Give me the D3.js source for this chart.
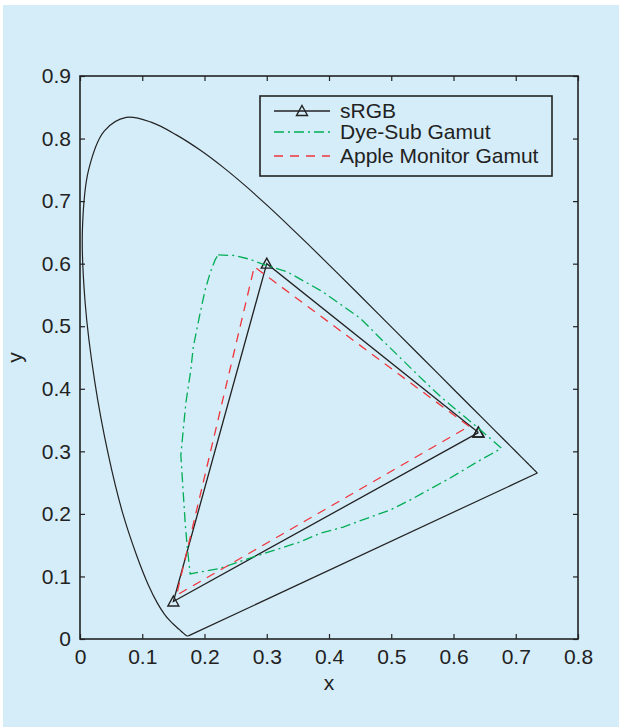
<!DOCTYPE html>
<html><head><meta charset="utf-8">
<script src="https://cdn.jsdelivr.net/npm/d3@7"></script>
<style>body{margin:0;background:#fff}svg{display:block}</style>
</head><body>
<svg id="c" width="619" height="727"></svg>
<script>
// CIE 1931 spectral locus, 380–700 nm (5 nm)
const locusX = [0.1741,0.1740,0.1738,0.1736,0.1733,0.1730,0.1726,0.1721,0.1714,0.1703,0.1689,0.1669,0.1644,0.1611,0.1566,0.1510,0.1440,0.1355,0.1241,0.1096,0.0913,0.0687,0.0454,0.0235,0.0082,0.0039,0.0139,0.0389,0.0743,0.1142,0.1547,0.1929,0.2296,0.2658,0.3016,0.3373,0.3731,0.4087,0.4441,0.4788,0.5125,0.5448,0.5752,0.6029,0.6270,0.6482,0.6658,0.6801,0.6915,0.7006,0.7079,0.7140,0.7190,0.7230,0.7260,0.7283,0.7300,0.7311,0.7320,0.7327,0.7334,0.7340,0.7344,0.7346,0.7347];
const locusY = [0.0050,0.0050,0.0049,0.0049,0.0048,0.0048,0.0048,0.0048,0.0051,0.0058,0.0069,0.0086,0.0109,0.0138,0.0177,0.0227,0.0297,0.0399,0.0578,0.0868,0.1327,0.2007,0.2950,0.4127,0.5384,0.6548,0.7502,0.8120,0.8338,0.8262,0.8059,0.7816,0.7543,0.7243,0.6923,0.6589,0.6245,0.5896,0.5547,0.5202,0.4866,0.4544,0.4242,0.3965,0.3725,0.3514,0.3340,0.3197,0.3083,0.2993,0.2920,0.2859,0.2809,0.2770,0.2740,0.2717,0.2700,0.2689,0.2680,0.2673,0.2666,0.2660,0.2656,0.2654,0.2653];

const srgbX = [0.64,0.30,0.15,0.64];
const srgbY = [0.33,0.60,0.06,0.33];

const dyeX = [0.222,0.249,0.273,0.297,0.333,0.390,0.450,0.477,0.551,0.582,0.640,0.677,0.663,0.643,0.594,0.530,0.498,0.461,0.423,0.386,0.353,0.278,0.225,0.177,0.172,0.169,0.162,0.170,0.178,0.182,0.193,0.201,0.209,0.217,0.222];
const dyeY = [0.614,0.613,0.607,0.598,0.587,0.555,0.513,0.486,0.414,0.385,0.337,0.305,0.297,0.286,0.257,0.222,0.206,0.193,0.179,0.169,0.155,0.131,0.113,0.104,0.150,0.185,0.294,0.377,0.430,0.467,0.521,0.558,0.585,0.606,0.614];

const appleX = [0.625,0.28,0.155,0.625];
const appleY = [0.34,0.595,0.07,0.34];

const xTicks = [0,0.1,0.2,0.3,0.4,0.5,0.6,0.7,0.8];
const yTicks = [0,0.1,0.2,0.3,0.4,0.5,0.6,0.7,0.8,0.9];
const legendLabels = ["sRGB","Dye-Sub Gamut","Apple Monitor Gamut"];

const BLACK = "#222", GREEN = "#00ad55", RED = "#f0343a", BG = "#d5edf9";
const FONT = "'Liberation Sans', Arial, Helvetica, sans-serif";
const FS = 21;

const svg = d3.select("#c");
svg.append("rect").attr("x",3).attr("y",5).attr("width",616).attr("height",722).attr("fill",BG);

const L = 80, R = 578, T = 76, B = 639;
const x = d3.scaleLinear().domain([0,0.8]).range([L,R]);
const y = d3.scaleLinear().domain([0,0.9]).range([B,T]);

const line = d3.line().x(d=>x(d[0])).y(d=>y(d[1]));
const smooth = d3.line().x(d=>x(d[0])).y(d=>y(d[1])).curve(d3.curveCatmullRom.alpha(0.5));
const zip = (a,b)=>a.map((v,i)=>[v,b[i]]);

// locus (smooth spectral curve + straight purple line)
const loc = zip(locusX,locusY);
svg.append("path").attr("d", smooth(loc)).attr("fill","none")
  .attr("stroke",BLACK).attr("stroke-width",1.2);
svg.append("path").attr("d", line([loc[loc.length-1], loc[0]])).attr("fill","none")
  .attr("stroke",BLACK).attr("stroke-width",1.2);

// sRGB
svg.append("path").attr("d", line(zip(srgbX,srgbY))).attr("fill","none")
  .attr("stroke",BLACK).attr("stroke-width",1.3);
const tri = (cx,cy)=>`M${cx},${cy-5.5}L${cx+5.5},${cy+4.5}L${cx-5.5},${cy+4.5}Z`;
svg.append("g").selectAll("path").data(zip(srgbX,srgbY)).join("path")
  .attr("d", d=>tri(x(d[0]),y(d[1]))).attr("fill","none").attr("stroke",BLACK).attr("stroke-width",1.4);

// Dye-sub
svg.append("path").attr("d", line(zip(dyeX,dyeY))).attr("fill","none")
  .attr("stroke",GREEN).attr("stroke-width",1.3).attr("stroke-dasharray","10,4,2,4");

// Apple
svg.append("path").attr("d", line(zip(appleX,appleY))).attr("fill","none")
  .attr("stroke",RED).attr("stroke-width",1.3).attr("stroke-dasharray","9,7");

// axes
const fmt = d => String(d);
const ax = (g)=>{ g.selectAll("text").attr("font-family",FONT).attr("font-size",FS).attr("fill",BLACK);
  g.selectAll("line").attr("stroke",BLACK).attr("stroke-width",1.2); g.select(".domain").remove(); };
svg.append("g").attr("transform",`translate(0,${B})`)
  .call(d3.axisBottom(x).tickValues(xTicks).tickFormat(fmt).tickSizeInner(-5).tickSizeOuter(0).tickPadding(10)).call(ax);
svg.append("g").attr("transform",`translate(0,${T})`)
  .call(d3.axisTop(x).tickValues(xTicks).tickFormat("").tickSizeInner(-5).tickSizeOuter(0)).call(ax);
svg.append("g").attr("transform",`translate(${L},0)`)
  .call(d3.axisLeft(y).tickValues(yTicks).tickFormat(fmt).tickSizeInner(-5).tickSizeOuter(0).tickPadding(9)).call(ax);
svg.append("g").attr("transform",`translate(${R},0)`)
  .call(d3.axisRight(y).tickValues(yTicks).tickFormat("").tickSizeInner(-5).tickSizeOuter(0)).call(ax);
svg.append("rect").attr("x",L).attr("y",T).attr("width",R-L).attr("height",B-T)
  .attr("fill","none").attr("stroke",BLACK).attr("stroke-width",1.6);

// axis labels
svg.append("text").attr("x",(L+R)/2).attr("y",690).attr("text-anchor","middle")
  .attr("font-family",FONT).attr("font-size",FS).attr("fill",BLACK).text("x");
svg.append("text").attr("transform",`translate(22,${(T+B)/2}) rotate(-90)`).attr("text-anchor","middle")
  .attr("font-family",FONT).attr("font-size",FS).attr("fill",BLACK).text("y");

// legend
const lg = svg.append("g");
lg.append("rect").attr("x",260).attr("y",96).attr("width",292).attr("height",80)
  .attr("fill",BG).attr("stroke",BLACK).attr("stroke-width",1.6);
const rowsY = [111, 132, 156];
const styles = [{c:BLACK,d:null,m:true},{c:GREEN,d:"10,4,2,4",m:false},{c:RED,d:"9,7",m:false}];
legendLabels.forEach((lab,i)=>{
  const ly = rowsY[i], s = styles[i];
  lg.append("line").attr("x1",274).attr("x2",330).attr("y1",ly).attr("y2",ly)
    .attr("stroke",s.c).attr("stroke-width",1.3).attr("stroke-dasharray",s.d);
  if (s.m) lg.append("path").attr("d",tri(302,ly)).attr("fill","none").attr("stroke",BLACK).attr("stroke-width",1.4);
  lg.append("text").attr("x",340).attr("y",ly).attr("dy","0.35em")
    .attr("font-family",FONT).attr("font-size",FS).attr("fill",BLACK).text(lab);
});
</script>
</body></html>
